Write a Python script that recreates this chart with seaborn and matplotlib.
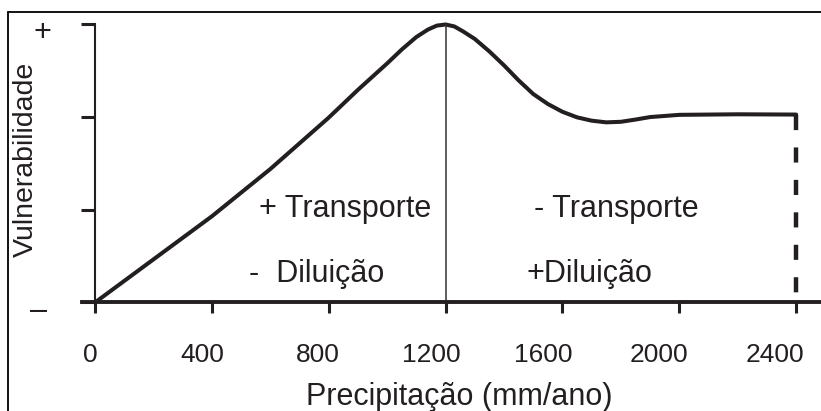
import numpy as np
import pandas as pd
import matplotlib

matplotlib.use("Agg")
import matplotlib.pyplot as plt
import matplotlib.transforms as mtransforms
from matplotlib.lines import Line2D
import seaborn as sns

# values
precip = [0, 200, 400, 600, 800, 900, 1000, 1050, 1100, 1140, 1170, 1200,
          1230, 1260, 1300, 1350, 1400, 1450, 1500, 1550, 1600, 1650, 1700,
          1750, 1800, 1850, 1900, 2000, 2200, 2400]
vuln = [0, 0.155, 0.31, 0.48, 0.665, 0.765, 0.86, 0.91, 0.955, 0.982, 0.996, 1.0,
        0.993, 0.975, 0.948, 0.903, 0.853, 0.799, 0.75, 0.714, 0.686, 0.666, 0.654,
        0.648, 0.65, 0.658, 0.667, 0.675, 0.677, 0.676]

x_ticks = [0, 400, 800, 1200, 1600, 2000, 2400]
y_ticks = [0, 1 / 3, 2 / 3, 1]
y_ticklabels = ["\u2013", "", "", "+"]
zone_texts = ["+ Transporte", "-  Diluição", "- Transporte", "+Diluição"]

ink = "#231f20"

sns.set_theme(style="white")
plt.rcParams["font.family"] = ["Liberation Sans", "DejaVu Sans"]

df = pd.DataFrame({"precip": precip, "vuln": vuln})

fig = plt.figure(figsize=(8.21, 4.11), dpi=100)
ax = fig.add_axes([82 / 821, 0.264, 739 / 821, 0.717])

sns.lineplot(data=df, x="precip", y="vuln", ax=ax, color=ink, linewidth=2.9,
             estimator=None, sort=False, clip_on=False,
             solid_joinstyle="round", solid_capstyle="round")

# divider at the peak and dashed drop at the end of the series
i_peak = int(np.argmax(vuln))
ax.vlines(precip[i_peak], 0, vuln[i_peak], color="#333333", linewidth=1.1)
ax.plot([precip[-1], precip[-1]], [vuln[-1], 0], color=ink, linewidth=3.2,
        dashes=(3.4, 3.9), clip_on=False)

ax.set_xlim(-44.5, 2485)
ax.set_ylim(0, 1.06)

ax.spines["top"].set_visible(False)
ax.spines["right"].set_visible(False)
ax.spines["left"].set_position(("data", 0))
ax.spines["left"].set_bounds(0, 1)
ax.spines["left"].set_linewidth(1.5)
ax.spines["left"].set_color(ink)
ax.spines["bottom"].set_linewidth(2.8)
ax.spines["bottom"].set_color(ink)

ax.set_xticks(x_ticks)
ax.set_xticklabels([str(t) for t in x_ticks])
ax.set_yticks(y_ticks)
ax.set_yticklabels(y_ticklabels)
ax.tick_params(axis="x", direction="out", length=8, width=2.2, color=ink,
               pad=21, labelsize=19, labelcolor=ink, bottom=True)
ax.tick_params(axis="y", direction="out", length=10, width=2.2, color=ink,
               pad=22, labelsize=22, labelcolor=ink, left=True)

# the printed tick labels sit a little left of their ticks
label_shift_px = [-5, -10, -11, -14, -19, -20, -21]
for lab, dx in zip(ax.get_xticklabels(), label_shift_px):
    lab.set_transform(lab.get_transform()
                      + mtransforms.ScaledTranslation(dx / 100, 0, fig.dpi_scale_trans))
ylabs = ax.get_yticklabels()
ylabs[0].set_transform(ylabs[0].get_transform()
                       + mtransforms.ScaledTranslation(-0.03, -0.05, fig.dpi_scale_trans))
ylabs[-1].set_transform(ylabs[-1].get_transform()
                        + mtransforms.ScaledTranslation(0.01, -0.05, fig.dpi_scale_trans))

ax.set_xlabel("Precipitação (mm/ano)", fontsize=22, color=ink)
ax.xaxis.set_label_coords((459 - 82) / 739, -0.27)
ax.set_ylabel("Vulnerabilidade", fontsize=20.5, color=ink)
ax.yaxis.set_label_coords(-0.058, 0.485)

text_kw = dict(fontsize=22, color=ink, va="baseline", ha="left")
ax.text(561, 0.309, zone_texts[0], **text_kw)
ax.text(527, 0.075, zone_texts[1], **text_kw)
ax.text(1502, 0.309, zone_texts[2], **text_kw)
ax.text(1478, 0.075, zone_texts[3], **text_kw)

# frame of the original figure (cropped on the right and bottom)
fig.add_artist(Line2D([8 / 821, 1.0], [1 - 12 / 411, 1 - 12 / 411],
                      transform=fig.transFigure, color="#111111", linewidth=1.4))
fig.add_artist(Line2D([8 / 821, 8 / 821], [0.0, 1 - 12 / 411],
                      transform=fig.transFigure, color="#111111", linewidth=1.4))

fig.savefig("out.png", dpi=100)
